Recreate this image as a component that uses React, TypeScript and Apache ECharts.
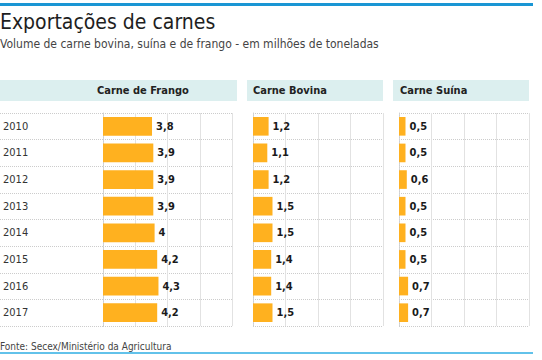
import React, { useEffect, useRef } from "react";
import * as echarts from "echarts";

const years = ["2010", "2011", "2012", "2013", "2014", "2015", "2016", "2017"];
const frango = [3.8, 3.9, 3.9, 3.9, 4, 4.2, 4.3, 4.2];
const bovina = [1.2, 1.1, 1.2, 1.5, 1.5, 1.4, 1.4, 1.5];
const suina = [0.5, 0.5, 0.6, 0.5, 0.5, 0.5, 0.7, 0.7];
const panelTitles = ["Carne de Frango", "Carne Bovina", "Carne Suína"];

const FONT = '"DejaVu Sans Condensed", "Liberation Sans Narrow", "Liberation Sans", sans-serif';
const BAR = "#ffb11f";

export default function App() {
  const ref = useRef<HTMLDivElement>(null);
  useEffect(() => {
    if (!ref.current) return;
    const chart = echarts.init(ref.current, undefined, { renderer: "svg" });
    const top = 113;
    const height = 213;
    const grids = [
      { left: 103, top, width: 129, height },
      { left: 253, top, width: 130, height },
      { left: 399, top, width: 130, height },
      { left: 0, top, width: 103, height },
    ];
    const dataSets = [frango, bovina, suina];
    const xAxes: any[] = grids.map((_, i) => ({
      type: "value",
      gridIndex: i,
      min: 0,
      max: 10,
      interval: 2.5,
      show: i < 3,
      axisLabel: { show: false },
      axisLine: { show: false },
      axisTick: { show: false },
      splitLine: { show: i < 3, lineStyle: { color: "#e2e2e2", width: 1 } },
    }));
    const yAxes: any[] = grids.map((_, i) => ({
      type: "category",
      gridIndex: i,
      data: years,
      inverse: true,
      axisTick: { show: false },
      axisLine: { show: i < 3, lineStyle: { color: "#cfcfcf", type: "dotted" } },
      axisLabel:
        i === 3
          ? { show: true, inside: true, margin: 3, color: "#333", fontSize: 11, fontFamily: FONT }
          : { show: false },
      splitLine: { show: true, lineStyle: { color: "#cccccc", type: "dotted" } },
    }));
    const series: any[] = dataSets.map((d, i) => ({
      type: "bar",
      xAxisIndex: i,
      yAxisIndex: i,
      data: d,
      barWidth: "70%",
      itemStyle: { color: BAR },
      label: {
        show: true,
        position: "right",
        distance: 4,
        formatter: (p: any) => String(p.value).replace(".", ","),
        color: "#1a1a1a",
        fontWeight: "bold",
        fontSize: 11,
        fontFamily: FONT,
      },
    }));
    series.push({ type: "bar", xAxisIndex: 3, yAxisIndex: 3, data: years.map(() => null), silent: true });

    const headers = [
      { x: 0, w: 237, tx: 97 },
      { x: 247, w: 136, tx: 253 },
      { x: 393, w: 136, tx: 400 },
    ];
    const graphic: any[] = [
      { type: "rect", shape: { x: 0, y: 3, width: 533, height: 3 }, style: { fill: "#1a96d4" } },
      {
        type: "text",
        x: 0,
        y: 11,
        style: { text: "Exportações de carnes", font: `21px ${FONT}`, fill: "#1e1e1e" },
      },
      {
        type: "text",
        x: 0,
        y: 38,
        style: {
          text: "Volume de carne bovina, suína e de frango - em milhões de toneladas",
          font: `12px ${FONT}`,
          fill: "#444",
        },
      },
      ...headers.flatMap((h, i) => [
        { type: "rect", shape: { x: h.x, y: 80, width: h.w, height: 21 }, style: { fill: "#dcefef" } },
        {
          type: "text",
          x: h.tx,
          y: 90.5,
          style: {
            text: panelTitles[i],
            font: `bold 11px ${FONT}`,
            fill: "#222",
            verticalAlign: "middle",
          },
        },
      ]),
      {
        type: "text",
        x: 0,
        y: 346,
        style: {
          text: "Fonte: Secex/Ministério da Agricultura",
          font: `10px ${FONT}`,
          fill: "#444",
          verticalAlign: "middle",
        },
      },
      { type: "rect", shape: { x: 0, y: 352, width: 533, height: 2 }, style: { fill: "#62c2ea" } },
    ];

    chart.setOption({
      animation: false,
      backgroundColor: "#ffffff",
      grid: grids,
      xAxis: xAxes,
      yAxis: yAxes,
      series,
      graphic,
    });
    return () => chart.dispose();
  }, []);
  return (
    <div
      ref={ref}
      style={{ position: "fixed", left: 0, top: 0, width: 542, height: 360 }}
    />
  );
}
